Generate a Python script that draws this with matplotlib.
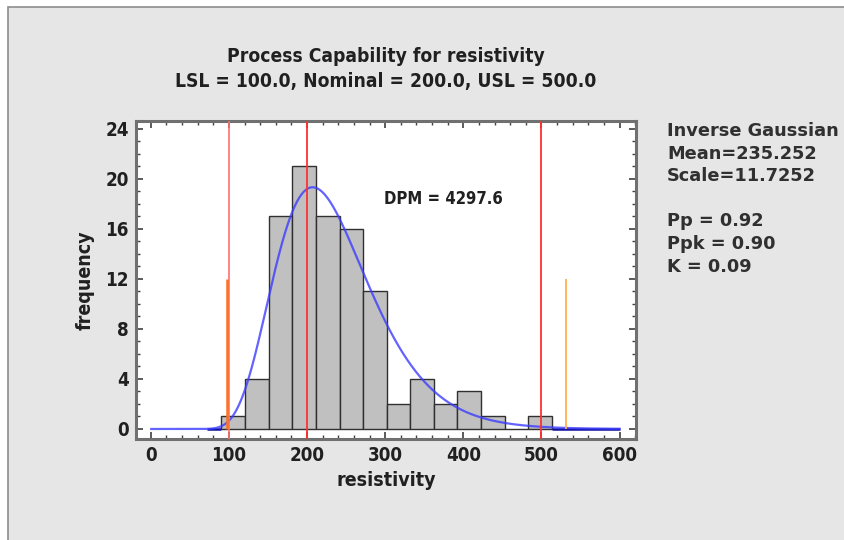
import numpy as np
import matplotlib
matplotlib.use('Agg')
import matplotlib.pyplot as plt
from matplotlib.patches import Rectangle
from matplotlib.ticker import MultipleLocator
from matplotlib import font_manager

matplotlib.rcParams['xtick.direction'] = 'in'
matplotlib.rcParams['ytick.direction'] = 'in'

# histogram classes for resistivity
bin_edges = [90, 121, 151, 181, 212, 242, 272, 302, 332, 362, 392, 423, 453, 483, 513]
counts = [1, 4, 17, 21, 17, 16, 11, 2, 4, 2, 3, 1, 0, 1]
hist_range = [72, 600]

# spec limits and 3-sigma limits
lsl, nominal, usl = 100.0, 200.0, 500.0
sigma_limits = [98, 531]

# fitted inverse gaussian
ig_mean = 235.252
ig_scale = 11.7252

stats_lines = ['Inverse Gaussian', 'Mean=235.252', 'Scale=11.7252', '',
               'Pp = 0.92', 'Ppk = 0.90', 'K = 0.09']
dpm = 4297.6

def narrow(size):
    return font_manager.FontProperties(family='DejaVu Sans', stretch='condensed',
                                       weight='bold', size=size)

fig = plt.figure(figsize=(8.44, 5.40), dpi=100)
fig.patch.set_facecolor('white')
fig.patches.append(Rectangle((8 / 844, -0.1), 1.2, 1.1 - 7 / 540, transform=fig.transFigure,
                             facecolor='#e6e6e6', edgecolor='#8c8c8c', lw=1.2, zorder=-10))

ax = fig.add_axes([136 / 844, 101 / 540, 500 / 844, 318 / 540])
ax.set_facecolor('white')

widths = np.diff(bin_edges)
ax.bar(bin_edges[:-1], counts, width=widths, align='edge', color='#c0c0c0',
       edgecolor='#303030', lw=1.0, zorder=2)

# fitted density scaled to counts
n = sum(counts)
bw = (bin_edges[-1] - bin_edges[0]) / len(counts)
lam = ig_mean * ig_scale
xs = np.linspace(0.5, 600, 800)
pdf = np.sqrt(lam / (2 * np.pi * xs ** 3)) * np.exp(-lam * (xs - ig_mean) ** 2 / (2 * ig_mean ** 2 * xs))
ax.plot(xs, n * bw * pdf, color='#3c3cff', lw=1.6, alpha=0.8, zorder=4)
ax.hlines(0, hist_range[0], bin_edges[0], color='#1010a0', lw=1.8, zorder=3)
ax.hlines(0, bin_edges[-1], hist_range[1], color='#1010a0', lw=1.8, zorder=3)

# spec lines
ax.axvline(lsl, color='#ff7070', lw=1.2, zorder=5)
ax.axvline(nominal, color='#ff3030', lw=1.3, zorder=5)
ax.axvline(usl, color='#ff3030', lw=1.3, zorder=5)
ax.vlines(sigma_limits[0], 0, 12, color='#ff7020', lw=1.8, zorder=6)
ax.vlines(sigma_limits[1], 0, 12, color='#ffb050', lw=1.3, zorder=6)

ax.text(298, 18.4, 'DPM = %.1f' % dpm, fontproperties=narrow(12), color='#202020', va='center')

ax.set_xlim(-19, 621)
ax.set_ylim(-0.8, 24.6)
ax.xaxis.set_major_locator(MultipleLocator(100))
ax.xaxis.set_minor_locator(MultipleLocator(20))
ax.yaxis.set_major_locator(MultipleLocator(4))
ax.yaxis.set_minor_locator(MultipleLocator(1))
ax.tick_params(which='both', top=True, right=True, color='#404040')
ax.tick_params(which='major', length=5, width=1.2, pad=5)
ax.tick_params(which='minor', length=3, width=1.0)
for lab in ax.get_xticklabels() + ax.get_yticklabels():
    lab.set_fontproperties(narrow(13.5))
    lab.set_color('#202020')
for sp in ax.spines.values():
    sp.set_color('#707070')
    sp.set_linewidth(2.2)

ax.set_xlabel('resistivity', fontproperties=narrow(14), color='#202020', labelpad=4)
ax.set_ylabel('frequency', fontproperties=narrow(14), color='#202020', labelpad=8)

fig.text(386 / 844, 1 - 57 / 540, 'Process Capability for resistivity', fontproperties=narrow(13.8),
         ha='center', va='center', color='#202020')
fig.text(386 / 844, 1 - 82 / 540, 'LSL = 100.0, Nominal = 200.0, USL = 500.0',
         fontproperties=narrow(13.8), ha='center', va='center', color='#202020')

for i, line in enumerate(stats_lines):
    fig.text(667 / 844, 1 - (131 + 22.6 * i) / 540, line, family='DejaVu Sans',
             fontweight='bold', fontsize=12.8, va='center', color='#303030')

fig.savefig('out.png', dpi=100, facecolor=fig.get_facecolor())
